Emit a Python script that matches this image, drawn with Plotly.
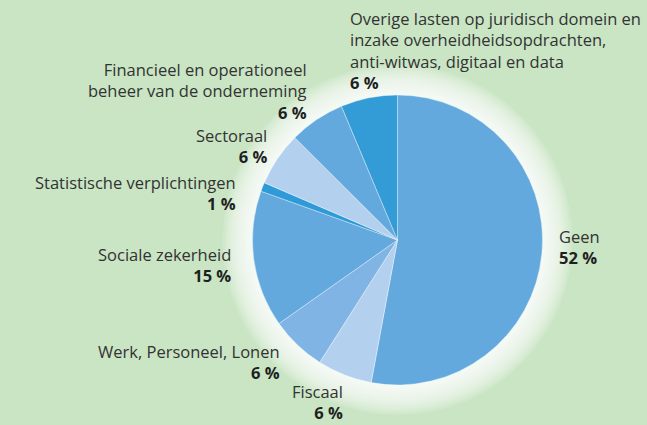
import plotly.graph_objects as go

W, H = 647, 425

categories = [
    "Geen",
    "Fiscaal",
    "Werk, Personeel, Lonen",
    "Sociale zekerheid",
    "Statistische verplichtingen",
    "Sectoraal",
    "Financieel en operationeel<br>beheer van de onderneming",
    "Overige lasten op juridisch domein en<br>inzake overheidheidsopdrachten,<br>anti-witwas, digitaal en data",
]
values = [52.8, 6.1, 6.2, 15.2, 1.0, 6.0, 6.2, 6.3]
pct_labels = ["52 %", "6 %", "6 %", "15 %", "1 %", "6 %", "6 %", "6 %"]
colors = ["#64a9de", "#b3d1ee", "#80b4e4", "#64a9de",
          "#2e9ad7", "#b3d1ee", "#64a9de", "#339bd6"]

# label anchor (px, top-left origin) and alignment
label_pos = [
    (557, 247, "left"),
    (345, 402, "right"),
    (282, 362, "right"),
    (233, 265, "right"),
    (238, 193, "right"),
    (269, 146, "right"),
    (309, 91, "right"),
    (348, 50, "left"),
]

cx, cy, r = 397.5, 240, 145

fig = go.Figure()
fig.add_trace(go.Pie(
    labels=categories, values=values, sort=False, direction="clockwise",
    rotation=0, textinfo="none", hoverinfo="label+percent",
    marker=dict(colors=colors, line=dict(color="rgba(255,255,255,0.6)", width=0.6)),
    domain=dict(x=[(cx - r) / W, (cx + r) / W], y=[(H - cy - r) / H, (H - cy + r) / H]),
    showlegend=False,
))

# soft white glow around the pie
shapes = []
for i in range(14):
    rr = r + 30 - i * 2.2
    shapes.append(dict(
        type="circle", xref="paper", yref="paper", layer="below",
        x0=(cx - rr) / W, x1=(cx + rr) / W, y0=(H - cy - rr) / H, y1=(H - cy + rr) / H,
        fillcolor="rgba(255,255,255,0.13)", line=dict(width=0),
    ))

annotations = []
for name, pct, (x, y, al) in zip(categories, pct_labels, label_pos):
    annotations.append(dict(
        text=f"{name}<br><b style='color:#1f1f1f'>{pct}</b>",
        x=x / W, y=1 - y / H, xref="paper", yref="paper",
        xanchor=al, yanchor="middle", align=al, showarrow=False,
        font=dict(family="Open Sans", size=16.5, color="#333333"),
    ))

fig.update_layout(
    width=W, height=H, margin=dict(l=0, r=0, t=0, b=0),
    paper_bgcolor="#c9e5c4", plot_bgcolor="#c9e5c4",
    shapes=shapes, annotations=annotations,
)

fig.write_html("out.html", config={"displayModeBar": False},
               post_script="document.body.style.margin='0';")
